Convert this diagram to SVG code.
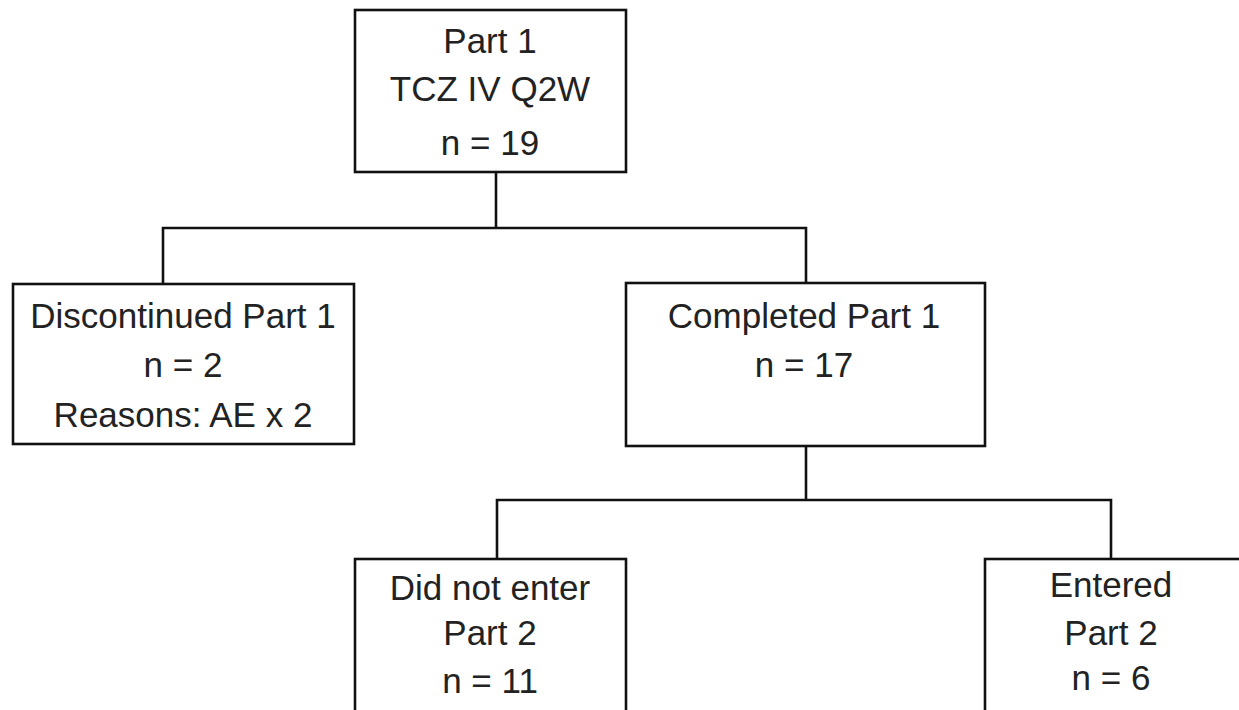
<svg xmlns="http://www.w3.org/2000/svg" width="1239" height="710" viewBox="0 0 1239 710">
<style>
.box{fill:#fff;stroke:#111;stroke-width:2.6}
.ln{fill:none;stroke:#111;stroke-width:2.6}
text{font-family:"Liberation Sans",Arial,sans-serif;font-size:35px;fill:#222;text-anchor:middle}
</style>
<rect width="1239" height="710" fill="#fff"/>
<g id="connectors">
<polyline class="ln" points="496,172 496,228"/>
<polyline class="ln" points="163,284 163,228 806,228 806,284"/>
<polyline class="ln" points="806,446 806,500"/>
<polyline class="ln" points="497,559 497,500 1111,500 1111,559"/>
</g>
<g id="part1">
<rect class="box" x="355" y="10" width="271" height="162"/>
<text x="490" y="53">Part 1</text>
<text x="490" y="101">TCZ IV Q2W</text>
<text x="490" y="155">n = 19</text>
</g>
<g id="discontinued">
<rect class="box" x="13" y="284" width="341" height="160"/>
<text x="183" y="328">Discontinued Part 1</text>
<text x="183" y="377">n = 2</text>
<text x="183" y="427">Reasons: AE x 2</text>
</g>
<g id="completed">
<rect class="box" x="626" y="283" width="359" height="163"/>
<text x="804" y="328">Completed Part 1</text>
<text x="804" y="377">n = 17</text>
</g>
<g id="didnotenter">
<rect class="box" x="355" y="559" width="271" height="170"/>
<text x="490" y="600">Did not enter</text>
<text x="490" y="645">Part 2</text>
<text x="490" y="693">n = 11</text>
</g>
<g id="entered">
<rect class="box" x="985" y="559" width="270" height="170"/>
<text x="1111" y="597">Entered</text>
<text x="1111" y="645">Part 2</text>
<text x="1111" y="690">n = 6</text>
</g>
</svg>
